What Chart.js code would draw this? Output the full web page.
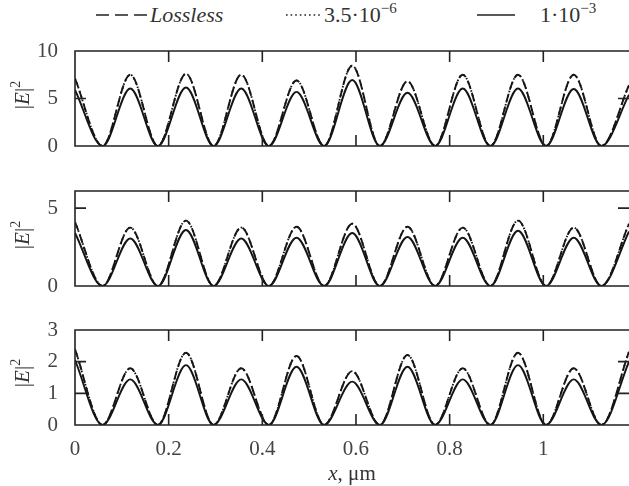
<!DOCTYPE html>
<html>
  <head>
    <title>|E|^2 vs x</title>
    <script src="https://cdn.jsdelivr.net/npm/chart.js"></script>
    <style>
      body {
        margin: 0;
        background: #fff;
        overflow: hidden;
      }
      #wrap {
        position: relative;
        width: 629px;
        height: 486px;
        font-family: "Liberation Serif", serif;
        color: #333;
      }
      canvas {
        position: absolute;
        left: 0;
      }
      .lg {
        position: absolute;
        top: 2px;
        font-size: 22px;
        line-height: 26px;
        white-space: nowrap;
      }
      .lg sup {
        font-size: 15px;
        vertical-align: 9px;
        line-height: 0;
      }
      .sample {
        position: absolute;
        top: 8px;
      }
      .ytitle {
        position: absolute;
        left: 22px;
        font-size: 21px;
        white-space: nowrap;
        transform: translate(-50%, -50%) rotate(-90deg);
      }
      .ytitle sup {
        font-size: 14px;
        vertical-align: 9px;
        line-height: 0;
      }
      #xtitle {
        position: absolute;
        left: 352px;
        top: 473px;
        font-size: 21px;
        transform: translate(-50%, -50%);
        white-space: nowrap;
      }
    </style>
  </head>
  <body>
    <div id="wrap">
      <svg class="sample" style="left: 96px" width="52" height="14">
        <line x1="0" y1="7" x2="52" y2="7" stroke="#222" stroke-width="1.6" stroke-dasharray="13,6" />
      </svg>
      <div class="lg" style="left: 150px"><i>Lossless</i></div>
      <svg class="sample" style="left: 286px" width="36" height="14">
        <line x1="0" y1="7" x2="36" y2="7" stroke="#222" stroke-width="1.6" stroke-dasharray="1.6,3" />
      </svg>
      <div class="lg" style="left: 324px">3.5·10<sup>−6</sup></div>
      <svg class="sample" style="left: 477px" width="38" height="14">
        <line x1="0" y1="7" x2="38" y2="7" stroke="#222" stroke-width="1.6" />
      </svg>
      <div class="lg" style="left: 540px">1·10<sup>−3</sup></div>

      <canvas id="c1" width="629" height="139" style="top: 29px"></canvas>
      <canvas id="c2" width="629" height="139" style="top: 169px"></canvas>
      <canvas id="c3" width="629" height="178" style="top: 308px"></canvas>

      <div class="ytitle" style="top: 95px">|<i>E</i>|<sup>2</sup></div>
      <div class="ytitle" style="top: 235px">|<i>E</i>|<sup>2</sup></div>
      <div class="ytitle" style="top: 373px">|<i>E</i>|<sup>2</sup></div>
      <div id="xtitle"><i>x</i>, μm</div>
    </div>

    <script>
      // x positions (µm): field peaks and zeros
      let xPos = [0, 0.059, 0.118, 0.177, 0.237, 0.296, 0.355, 0.414, 0.473, 0.532, 0.592,
        0.651, 0.71, 0.769, 0.828, 0.887, 0.946, 1.006, 1.065, 1.124, 1.183];
      let xTicks = [0, 0.2, 0.4, 0.6, 0.8, 1];
      let xMax = 1.183;

      // top panel
      let p1Lossless = [7.1, 0, 7.5, 0, 7.6, 0, 7.5, 0, 6.9, 0, 8.45, 0, 6.8, 0, 7.5, 0, 7.5, 0, 7.5, 0, 6.4];
      let p1Loss35e6 = [7.1, 0, 7.5, 0, 7.6, 0, 7.5, 0, 6.9, 0, 8.45, 0, 6.8, 0, 7.5, 0, 7.5, 0, 7.5, 0, 6.4];
      let p1Loss1e3 = [5.9, 0, 6.05, 0, 6.15, 0, 6.05, 0, 5.7, 0, 6.95, 0, 5.6, 0, 6.05, 0, 6.05, 0, 6.0, 0, 5.4];
      let p1YTicks = [0, 5, 10];

      // middle panel
      let p2Lossless = [4.1, 0, 3.75, 0, 4.2, 0, 3.75, 0, 3.8, 0, 4.0, 0, 3.8, 0, 3.75, 0, 4.2, 0, 3.75, 0, 4.0];
      let p2Loss35e6 = [4.1, 0, 3.75, 0, 4.2, 0, 3.75, 0, 3.8, 0, 4.0, 0, 3.8, 0, 3.75, 0, 4.2, 0, 3.75, 0, 4.0];
      let p2Loss1e3 = [3.4, 0, 3.05, 0, 3.6, 0, 3.05, 0, 3.1, 0, 3.4, 0, 3.15, 0, 3.1, 0, 3.55, 0, 3.1, 0, 3.5];
      let p2YTicks = [0, 5];

      // bottom panel
      let p3Lossless = [2.39, 0, 1.79, 0, 2.28, 0, 1.79, 0, 2.18, 0, 1.7, 0, 2.21, 0, 1.79, 0, 2.28, 0, 1.79, 0, 2.31];
      let p3Loss35e6 = [2.39, 0, 1.79, 0, 2.28, 0, 1.79, 0, 2.18, 0, 1.7, 0, 2.21, 0, 1.79, 0, 2.28, 0, 1.79, 0, 2.31];
      let p3Loss1e3 = [2.05, 0, 1.44, 0, 1.89, 0, 1.44, 0, 1.84, 0, 1.37, 0, 1.84, 0, 1.44, 0, 1.89, 0, 1.44, 0, 2.0];
      let p3YTicks = [0, 1, 2, 3];

      let ink = "#151515";
      let labelFont = { family: "'Liberation Serif', serif", size: 21 };

      // frame (top, bottom, left) with inward ticks; right side is cut by the figure edge
      let framePlugin = {
        id: "frame",
        afterDatasetsDraw(chart) {
          let { ctx, chartArea: a, scales } = chart;
          let x = scales.x, y = scales.y;
          ctx.save();
          ctx.strokeStyle = "#222";
          ctx.lineWidth = 1.6;
          ctx.beginPath();
          ctx.moveTo(a.right, a.top);
          ctx.lineTo(a.left, a.top);
          ctx.lineTo(a.left, a.bottom);
          ctx.lineTo(a.right, a.bottom);
          xTicks.forEach((v) => {
            if (v <= x.min || v >= x.max) return;
            let px = x.getPixelForValue(v);
            ctx.moveTo(px, a.top);
            ctx.lineTo(px, a.top + 11);
            ctx.moveTo(px, a.bottom);
            ctx.lineTo(px, a.bottom - 11);
          });
          y.ticks.forEach((t) => {
            if (t.value <= y.min || t.value >= y.max) return;
            let py = y.getPixelForValue(t.value);
            ctx.moveTo(a.left, py);
            ctx.lineTo(a.left + 11, py);
            ctx.moveTo(a.right, py);
            ctx.lineTo(a.right - 11, py);
          });
          ctx.stroke();
          ctx.restore();
        },
      };

      function series(vals, dash) {
        return {
          data: xPos.map((x, i) => ({ x: x, y: vals[i] })),
          borderColor: ink,
          borderWidth: 1.9,
          borderDash: dash,
          pointRadius: 0,
          cubicInterpolationMode: "monotone",
          fill: false,
        };
      }

      function makePanel(id, lossless, loss35, loss1e3, yMax, yTicks, showX) {
        return new Chart(document.getElementById(id), {
          type: "line",
          data: {
            datasets: [
              series(lossless, [9, 4]),
              series(loss35, [1.5, 3]),
              series(loss1e3, []),
            ],
          },
          options: {
            responsive: false,
            animation: false,
            devicePixelRatio: 1,
            layout: {
              autoPadding: false,
              padding: { left: 0, right: 0, top: 22, bottom: showX ? 0 : 22 },
            },
            plugins: { legend: { display: false }, tooltip: { enabled: false } },
            scales: {
              x: {
                type: "linear",
                min: 0,
                max: xMax,
                display: showX,
                grid: { display: false },
                border: { display: false },
                afterBuildTicks: (s) => (s.ticks = xTicks.map((v) => ({ value: v }))),
                afterFit: (s) => {
                  s.height = showX ? 61 : 0;
                },
                ticks: {
                  font: labelFont,
                  color: "#444",
                  padding: 4,
                  maxRotation: 0,
                  callback: (v) => String(v),
                },
              },
              y: {
                min: 0,
                max: yMax,
                grid: { display: false },
                border: { display: false },
                afterBuildTicks: (s) => (s.ticks = yTicks.map((v) => ({ value: v }))),
                afterFit: (s) => (s.width = 75),
                ticks: {
                  font: labelFont,
                  color: "#444",
                  padding: 9,
                  callback: (v) => String(v),
                },
              },
            },
          },
          plugins: [framePlugin],
        });
      }

      makePanel("c1", p1Lossless, p1Loss35e6, p1Loss1e3, 10, p1YTicks, false);
      makePanel("c2", p2Lossless, p2Loss35e6, p2Loss1e3, 6.1, p2YTicks, false);
      makePanel("c3", p3Lossless, p3Loss35e6, p3Loss1e3, 3, p3YTicks, true);
    </script>
  </body>
</html>
